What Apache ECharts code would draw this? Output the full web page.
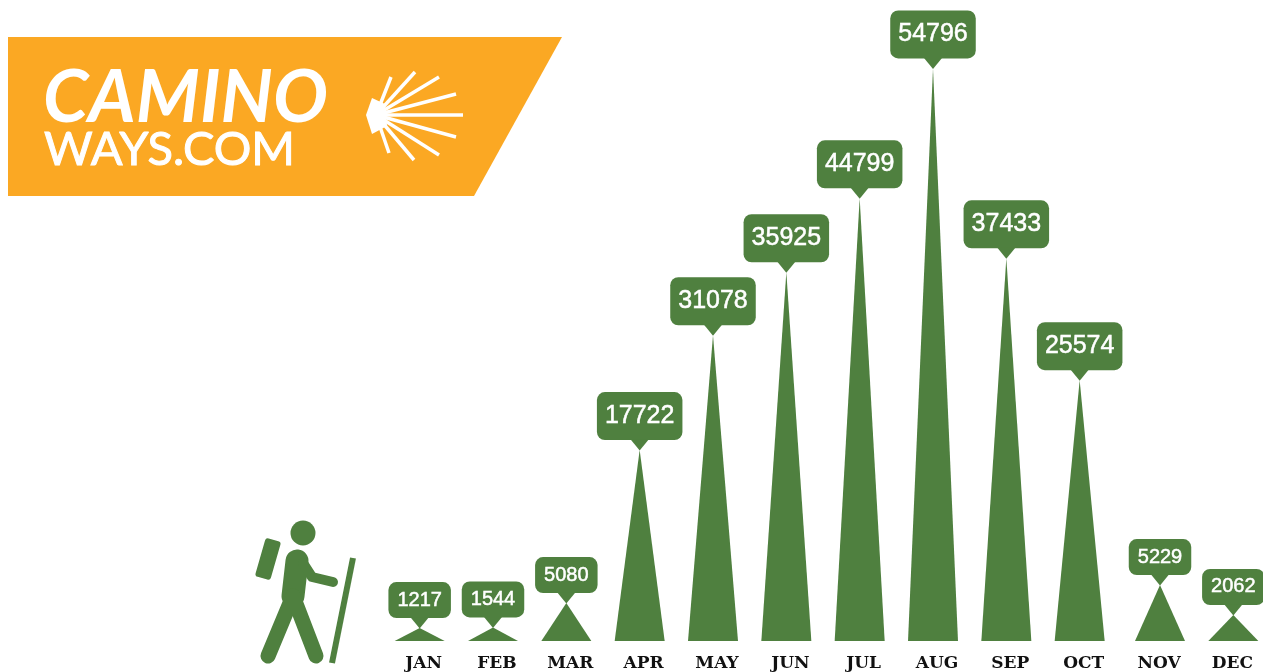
<!DOCTYPE html>
<html>
<head>
<meta charset="utf-8">
<title>Camino Ways pilgrims per month</title>
<style>
  html, body { margin: 0; padding: 0; background: #fff; }
  #chart { width: 1263px; height: 672px; }
</style>
<script src="https://cdn.jsdelivr.net/npm/echarts@6/dist/echarts.min.js"></script>
</head>
<body>
<div id="chart"></div>
<script>
const months = ['JAN', 'FEB', 'MAR', 'APR', 'MAY', 'JUN', 'JUL', 'AUG', 'SEP', 'OCT', 'NOV', 'DEC']
// numbers printed in the callouts
const pilgrims = [1217, 1544, 5080, 17722, 31078, 35925, 44799, 54796, 37433, 25574, 5229, 2062]
// height of each spike as drawn (not always in line with the printed number)
const spikeHeights = [1240, 1300, 3630, 18270, 29260, 35290, 42360, 54796, 36620, 24960, 5350, 2490]

const green = '#4f803f'
const orange = '#fba823'

const chart = echarts.init(document.getElementById('chart'))

// the original leaves a slightly wider gap before NOV and DEC
const nudge = (i) => (i >= 10 ? 7 : 0)

const calloutLabel = (value, i) => {
  const big = value >= 10000
  return {
    show: true,
    position: 'top',
    distance: 10,
    offset: [nudge(i), 0],
    formatter: String(value),
    color: '#fff',
    fontFamily: 'Liberation Sans',
    fontSize: big ? 25 : 20,
    lineHeight: big ? 24 : 20,
    padding: big ? [12, 8] : [8, 9],
    textBorderColor: '#fff',
    textBorderWidth: 0.5,
    backgroundColor: green,
    borderRadius: 8
  }
}

// scallop shell rays in the logo
const shellRays = [
  [463, 115], [456, 94], [456, 137], [439, 77], [439, 155],
  [415, 72], [414, 160], [391, 77], [389, 153]
].map(([x, y]) => ({
  type: 'line',
  shape: { x1: 376, y1: 115, x2: x, y2: y },
  style: { stroke: '#fff', lineWidth: 3.5 }
}))

const hikerLine = (points, lineWidth) => ({
  type: 'polyline',
  shape: { points },
  style: { stroke: green, fill: null, lineWidth, lineCap: 'round', lineJoin: 'round' }
})

chart.setOption({
  animation: false,
  backgroundColor: '#fff',
  grid: { left: 383, top: 14, width: 880, height: 627 },
  xAxis: {
    type: 'category',
    data: months.map((m, i) => ({
      value: m,
      textStyle: { padding: [0, 0, 0, i >= 10 ? 12 : 8] }
    })),
    axisLine: { show: false },
    axisTick: { show: false },
    axisLabel: {
      interval: 0,
      margin: 14,
      color: '#111',
      fontFamily: 'DejaVu Serif',
      fontWeight: 'bold',
      fontSize: 17
    }
  },
  yAxis: { type: 'value', min: 0, max: 60000, show: false },
  series: [
    {
      type: 'pictorialBar',
      symbol: 'triangle',
      symbolSize: [50, '100%'],
      itemStyle: { color: green },
      data: spikeHeights.map((h, i) => ({
        value: h,
        symbolOffset: [nudge(i), 0],
        label: calloutLabel(pilgrims[i], i)
      }))
    },
    {
      // little pointer under each callout
      type: 'scatter',
      symbol: 'path://M0 0L18 0L9 10Z',
      symbolSize: [18, 11],
      itemStyle: { color: green, opacity: 1 },
      silent: true,
      z: 3,
      data: spikeHeights.map((h, i) => ({ value: h, symbolOffset: [nudge(i), -5] }))
    }
  ],
  graphic: [
    {
      type: 'polygon',
      shape: { points: [[8, 37], [562, 37], [474, 196], [8, 196]] },
      style: { fill: orange }
    },
    {
      type: 'text',
      x: 43,
      y: 62,
      style: {
        text: 'CAMINO',
        fill: '#fff',
        font: 'italic bold 73px Lato'
      }
    },
    {
      type: 'text',
      x: 44,
      y: 126,
      style: {
        text: 'WAYS.COM',
        fill: '#fff',
        stroke: '#fff',
        lineWidth: 1,
        font: '47px Lato'
      }
    },
    ...shellRays,
    {
      type: 'polygon',
      shape: { points: [[366, 115], [372, 98], [385, 104], [387, 126], [372, 134]] },
      style: { fill: '#fff' }
    },
    // hiker
    { type: 'circle', shape: { cx: 303, cy: 533, r: 12.5 }, style: { fill: green } },
    {
      type: 'rect',
      x: 268,
      y: 559,
      rotation: -0.28,
      shape: { x: -8, y: -20, width: 16, height: 40, r: 3 },
      style: { fill: green }
    },
    hikerLine([[297, 561], [293, 596]], 23),
    hikerLine([[293, 596], [268, 656]], 15),
    hikerLine([[293, 596], [316, 656]], 15),
    hikerLine([[303, 563], [312, 577], [333, 582]], 10),
    {
      type: 'line',
      shape: { x1: 353, y1: 558, x2: 332, y2: 663 },
      style: { stroke: green, lineWidth: 6 }
    }
  ]
})
</script>
</body>
</html>
